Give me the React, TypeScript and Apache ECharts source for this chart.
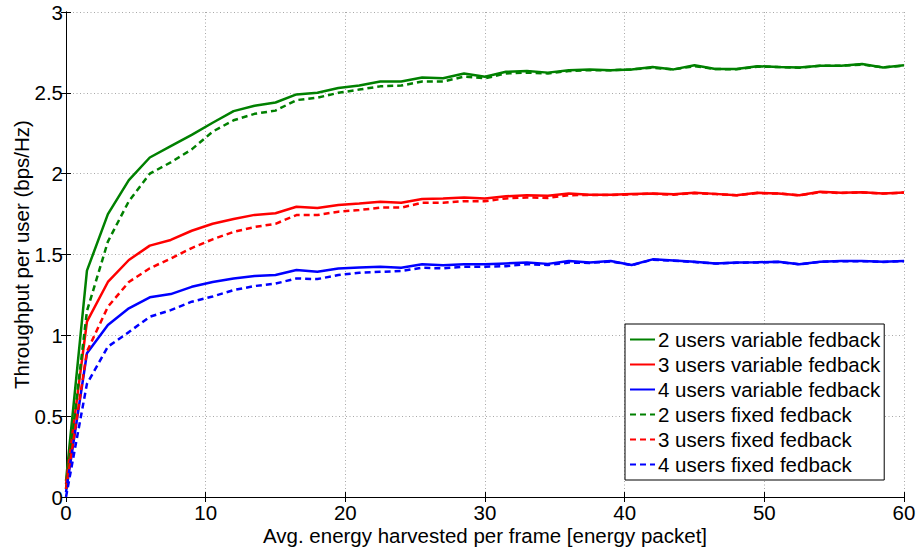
import React, { useEffect, useRef } from "react";
import * as echarts from "echarts";

// Average energy harvested per frame [energy packet]
const energy = [
  0, 1.5, 3, 4.5, 6, 7.5, 9, 10.5, 12, 13.5, 15, 16.5, 18, 19.5, 21, 22.5, 24,
  25.5, 27, 28.5, 30, 31.5, 33, 34.5, 36, 37.5, 39, 40.5, 42, 43.5, 45, 46.5,
  48, 49.5, 51, 52.5, 54, 55.5, 57, 58.5, 60,
];

// Throughput per user (bps/Hz)
const users2Variable = [
  0.1, 1.4, 1.75, 1.96, 2.1, 2.17, 2.24, 2.315, 2.387, 2.42, 2.44, 2.49, 2.5,
  2.53, 2.545, 2.57, 2.57, 2.595, 2.59, 2.62, 2.6, 2.63, 2.635, 2.625, 2.64,
  2.645, 2.64, 2.645, 2.66, 2.645, 2.67, 2.648, 2.648, 2.665, 2.66, 2.657,
  2.668, 2.668, 2.678, 2.657, 2.67,
];
const users3Variable = [
  0.08, 1.085, 1.33, 1.466, 1.555, 1.59, 1.647, 1.69, 1.72, 1.745, 1.755,
  1.795, 1.787, 1.806, 1.815, 1.826, 1.82, 1.843, 1.847, 1.853, 1.847, 1.86,
  1.867, 1.863, 1.877, 1.87, 1.87, 1.874, 1.878, 1.872, 1.882, 1.875, 1.867,
  1.882, 1.878, 1.867, 1.888, 1.882, 1.885, 1.878, 1.884,
];
const users4Variable = [
  0.03, 0.889, 1.064, 1.167, 1.235, 1.255, 1.3, 1.33, 1.352, 1.367, 1.373,
  1.404, 1.393, 1.413, 1.42, 1.424, 1.418, 1.44, 1.433, 1.44, 1.44, 1.445,
  1.45, 1.442, 1.46, 1.45, 1.46, 1.435, 1.47, 1.463, 1.455, 1.445, 1.45,
  1.452, 1.455, 1.44, 1.455, 1.46, 1.46, 1.455, 1.46,
];
const users2Fixed = [
  0.05, 1.15, 1.58, 1.83, 2.0, 2.07, 2.15, 2.26, 2.33, 2.37, 2.39, 2.455,
  2.47, 2.5, 2.52, 2.54, 2.545, 2.57, 2.57, 2.6, 2.59, 2.62, 2.625, 2.62,
  2.635, 2.64, 2.64, 2.645, 2.655, 2.645, 2.665, 2.647, 2.646, 2.662, 2.66,
  2.655, 2.667, 2.667, 2.675, 2.657, 2.668,
];
const users3Fixed = [
  0.05, 0.9, 1.177, 1.33, 1.415, 1.475, 1.54, 1.594, 1.64, 1.67, 1.69, 1.744,
  1.744, 1.765, 1.775, 1.79, 1.79, 1.82, 1.82, 1.83, 1.83, 1.847, 1.853,
  1.85, 1.867, 1.868, 1.868, 1.872, 1.876, 1.87, 1.88, 1.874, 1.866, 1.88,
  1.877, 1.866, 1.886, 1.88, 1.884, 1.877, 1.883,
];
const users4Fixed = [
  0, 0.7, 0.93, 1.02, 1.115, 1.156, 1.208, 1.24, 1.28, 1.305, 1.32, 1.352,
  1.348, 1.373, 1.387, 1.393, 1.398, 1.418, 1.414, 1.424, 1.424, 1.428, 1.44,
  1.435, 1.45, 1.448, 1.457, 1.434, 1.468, 1.462, 1.453, 1.444, 1.449, 1.451,
  1.454, 1.439, 1.454, 1.459, 1.459, 1.454, 1.459,
];

const seriesNames = [
  "2 users variable fedback",
  "3 users variable fedback",
  "4 users variable fedback",
  "2 users fixed fedback",
  "3 users fixed fedback",
  "4 users fixed fedback",
];

const FONT = "'Liberation Sans', Arial, Helvetica, sans-serif";

export default function App() {
  const ref = useRef<HTMLDivElement>(null);

  useEffect(() => {
    if (!ref.current) return;
    const chart = echarts.init(ref.current, undefined, { renderer: "svg" });

    const pairs = (ys: number[]) => energy.map((x, i) => [x, ys[i]]);
    const line = (
      name: string,
      ys: number[],
      color: string,
      dashed: boolean
    ) => ({
      name,
      type: "line",
      data: pairs(ys),
      symbol: "none",
      xAxisIndex: 0,
      yAxisIndex: 0,
      lineStyle: {
        color,
        width: 2.5,
        type: dashed ? [6, 4] : "solid",
      },
      itemStyle: { color },
      emphasis: { disabled: true },
    });

    const tickStyle = { show: true, inside: true, length: 5, lineStyle: { color: "#000", width: 1 } };
    const axisLineStyle = { show: true, lineStyle: { color: "#000", width: 1 } };
    const gridLine = { show: true, lineStyle: { color: "#a8a8a8", width: 1, type: [1, 2.5] } };
    const labelStyle = { color: "#000", fontSize: 20.5, fontFamily: FONT };

    chart.setOption({
      animation: false,
      backgroundColor: "#fff",
      grid: {
        left: 66,
        right: 14,
        top: 12,
        bottom: 55,
        containLabel: false,
        outerBoundsMode: "none",
      },
      xAxis: [
        {
          type: "value",
          min: 0,
          max: 60,
          interval: 10,
          position: "bottom",
          name: "Avg. energy harvested per frame [energy packet]",
          nameLocation: "middle",
          nameGap: 28,
          nameMoveOverlap: false,
          nameTextStyle: { ...labelStyle },
          axisLine: axisLineStyle,
          axisTick: tickStyle,
          axisLabel: { ...labelStyle, margin: 5 },
          splitLine: gridLine,
        },
        {
          type: "value",
          min: 0,
          max: 60,
          interval: 10,
          position: "top",
          axisLine: axisLineStyle,
          axisTick: tickStyle,
          axisLabel: { show: false },
          splitLine: { show: false },
        },
      ],
      yAxis: [
        {
          type: "value",
          min: 0,
          max: 3,
          interval: 0.5,
          position: "left",
          name: "Throughput per user (bps/Hz)",
          nameLocation: "middle",
          nameGap: 34,
          nameMoveOverlap: false,
          nameRotate: 90,
          nameTextStyle: { ...labelStyle },
          axisLine: axisLineStyle,
          axisTick: tickStyle,
          axisLabel: { ...labelStyle, margin: 3 },
          splitLine: gridLine,
        },
        {
          type: "value",
          min: 0,
          max: 3,
          interval: 0.5,
          position: "right",
          axisLine: axisLineStyle,
          axisTick: tickStyle,
          axisLabel: { show: false },
          splitLine: { show: false },
        },
      ],
      legend: {
        orient: "vertical",
        left: 625,
        top: 324,
        padding: [5, 4, 5, 4],
        itemGap: 4,
        itemWidth: 25,
        itemHeight: 20,
        backgroundColor: "#fff",
        borderColor: "#000",
        borderWidth: 1,
        borderRadius: 0,
        selectedMode: false,
        itemStyle: { opacity: 0, borderWidth: 0 },
        textStyle: { ...labelStyle, padding: [0, 0, 0, -2] },
        data: seriesNames,
      },
      series: [
        line(seriesNames[0], users2Variable, "#008000", false),
        line(seriesNames[1], users3Variable, "#ff0000", false),
        line(seriesNames[2], users4Variable, "#0000ff", false),
        line(seriesNames[3], users2Fixed, "#008000", true),
        line(seriesNames[4], users3Fixed, "#ff0000", true),
        line(seriesNames[5], users4Fixed, "#0000ff", true),
      ],
    });

    return () => chart.dispose();
  }, []);

  return (
    <div
      ref={ref}
      style={{ position: "fixed", left: 0, top: 0, width: 918, height: 552, background: "#fff" }}
    />
  );
}
